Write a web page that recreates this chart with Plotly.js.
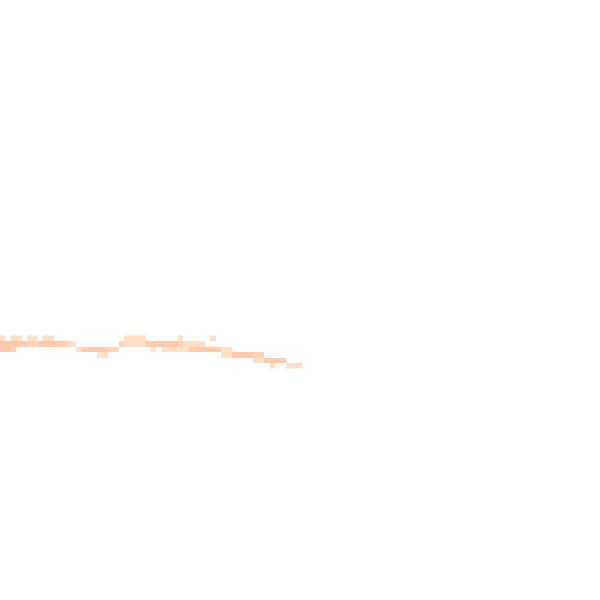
<!DOCTYPE html>
<html>
<head>
<meta charset="utf-8">
<script src="https://cdn.plot.ly/plotly-3.0.1.min.js"></script>
<style>
 body { margin:0; padding:0; background:#ffffff; }
 #myDiv { width:600px; height:600px; }
</style>
</head>
<body>
<div id="myDiv"></div>
<script>
// grid rows that hold any colour (row index from the top)
var rowIndex = [61, 62, 63, 64, 65, 66];

// column index of each cell in a row
var colIndex = [];
for (let i = 0; i < 56; i++) colIndex.push(i);

// cell levels per row : 1 light, 2 medium, 3 dark, null empty
var rowA = [1,null,1,1,null,1,1,null,1,1,null,null,null,null,null,null,null,null,null,null,null,null,null,1,1,1,1,null,null,null,null,null,null,1,null,null,null,null,null,1,null,null,null,null,null,null,null,null,null,null,null,null,null,null,null,null];
var rowB = [3,3,3,3,3,2,2,3,3,3,3,3,2,1,null,null,null,null,null,null,null,null,2,1,1,1,1,3,3,3,3,3,3,2,1,1,1,1,null,null,null,null,null,null,null,null,null,null,null,null,null,null,null,null,null,null];
var rowC = [3,3,2,null,null,null,null,null,null,null,null,null,null,null,1,3,3,3,3,3,2,2,null,null,null,null,null,null,1,null,1,1,1,1,1,3,3,3,3,3,3,1,1,null,null,null,null,null,null,null,null,null,null,null,null,null];
var rowD = [null,null,null,null,null,null,null,null,null,null,null,null,null,null,null,null,null,null,1,1,null,null,null,null,null,null,null,null,null,null,null,null,null,null,null,null,null,null,null,null,null,1,1,3,3,3,3,2,2,null,null,null,null,null,null,null];
var rowE = [null,null,null,null,null,null,null,null,null,null,null,null,null,null,null,null,null,null,null,null,null,null,null,null,null,null,null,null,null,null,null,null,null,null,null,null,null,null,null,null,null,null,null,null,null,null,null,1,1,3,3,3,3,null,null,null];
var rowF = [null,null,null,null,null,null,null,null,null,null,null,null,null,null,null,null,null,null,null,null,null,null,null,null,null,null,null,null,null,null,null,null,null,null,null,null,null,null,null,null,null,null,null,null,null,null,null,null,null,null,1,null,null,1,1,1];

var cellW = 5.4;
var cellH = 5.5;

function plot_band() {
  let trace = {
    type: 'heatmap',
    x: colIndex,
    y: rowIndex,
    z: [rowA, rowB, rowC, rowD, rowE, rowF],
    zmin: 1,
    zmax: 3,
    colorscale: [
      [0.0, '#ffe0c6'],
      [0.5, '#ffd4b6'],
      [1.0, '#ffcaa8']
    ],
    showscale: false,
    hoverinfo: 'none',
    zsmooth: false
  };

  let layout = {
    width: 600,
    height: 600,
    margin: { l:0, r:0, t:0, b:0, pad:0 },
    paper_bgcolor: '#ffffff',
    plot_bgcolor: '#ffffff',
    showlegend: false,
    xaxis: { range: [-0.5, 600/cellW - 0.5], visible: false, fixedrange: true },
    yaxis: { range: [600/cellH - 0.5, -0.5], visible: false, fixedrange: true }
  };

  Plotly.newPlot('myDiv', [trace], layout, {displayModeBar:false, staticPlot:true});
}

plot_band();
</script>
</body>
</html>
